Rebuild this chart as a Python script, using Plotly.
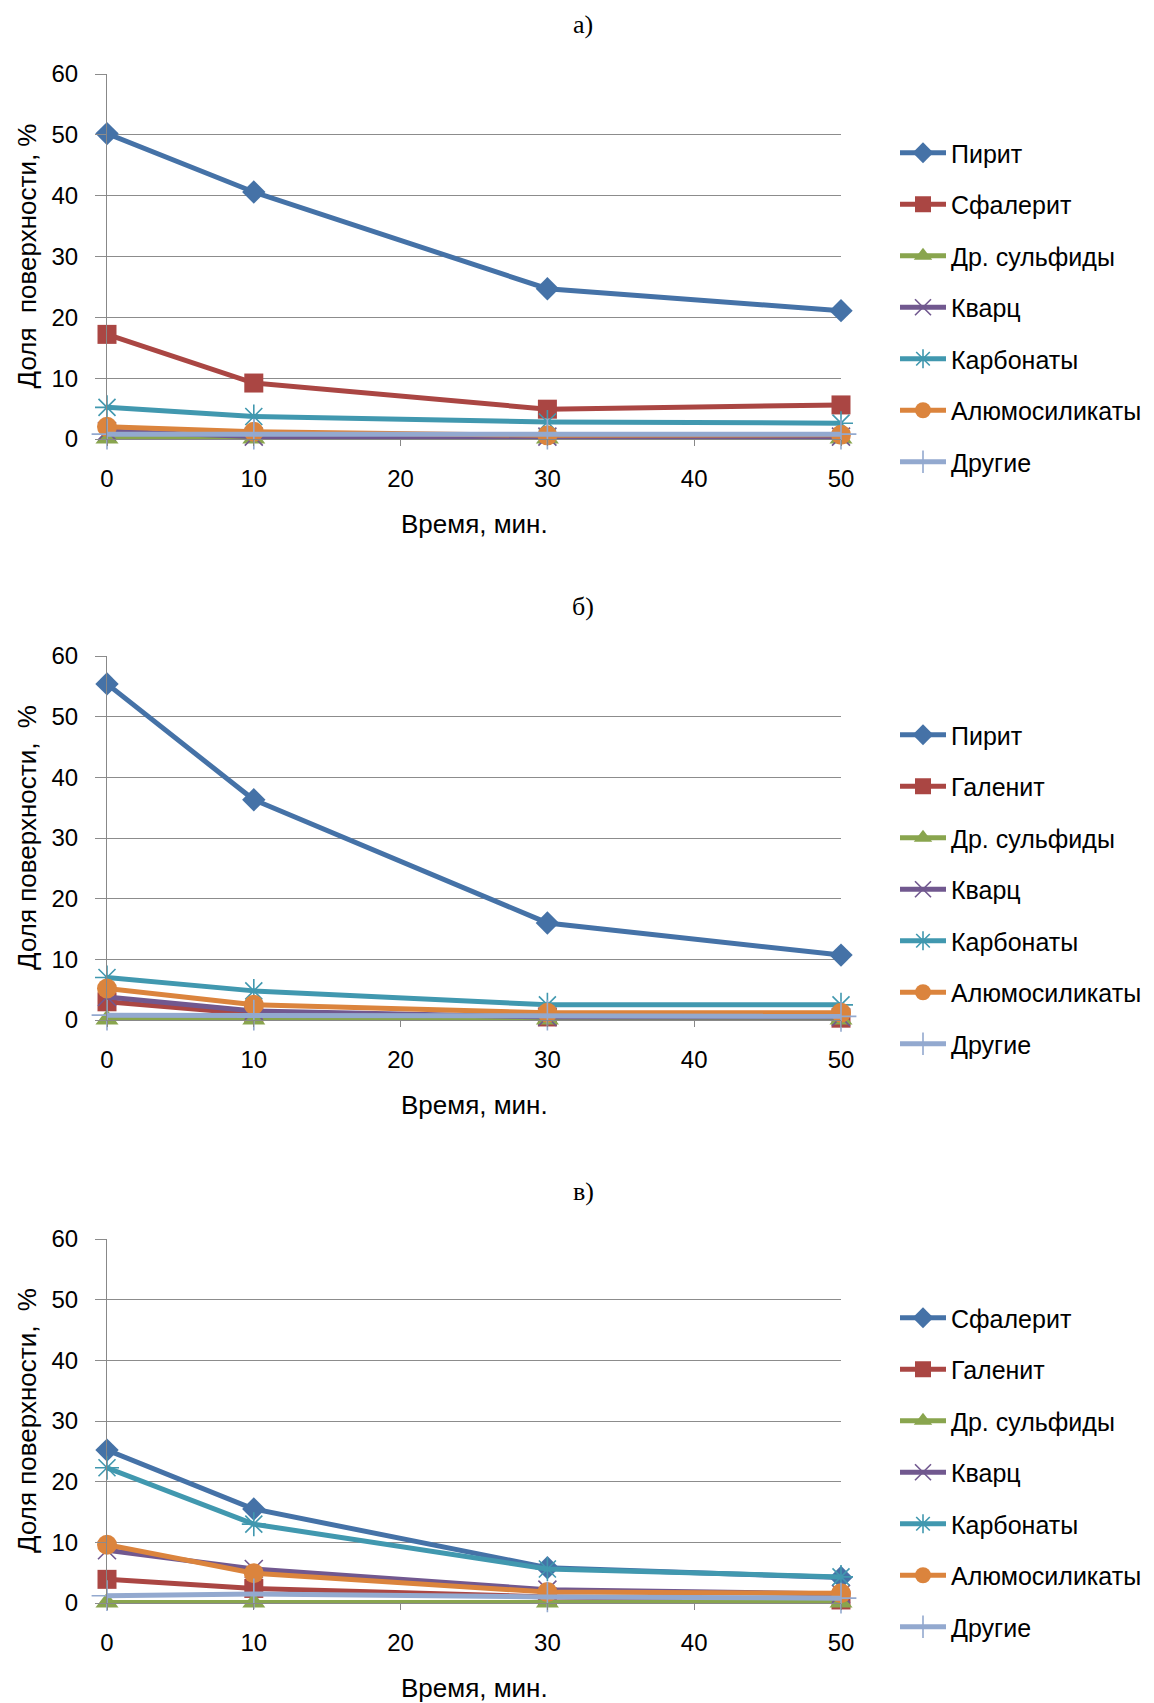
import plotly.graph_objects as go

# ---------------- data ----------------
time_min = [0, 10, 30, 50]
x_ticks = [0, 10, 20, 30, 40, 50]
y_ticks = [0, 10, 20, 30, 40, 50, 60]

panel_titles = ["а)", "б)", "в)"]
y_titles = ["Доля\u00a0\u00a0поверхности,\u00a0%",
            "Доля поверхности,\u00a0\u00a0%",
            "Доля поверхности,\u00a0\u00a0%"]
x_title = "Время, мин."

names_a = ["Пирит", "Сфалерит", "Др. сульфиды", "Кварц", "Карбонаты", "Алюмосиликаты", "Другие"]
names_b = ["Пирит", "Галенит", "Др. сульфиды", "Кварц", "Карбонаты", "Алюмосиликаты", "Другие"]
names_c = ["Сфалерит", "Галенит", "Др. сульфиды", "Кварц", "Карбонаты", "Алюмосиликаты", "Другие"]

# panel а)
a_s1 = [50.2, 40.6, 24.7, 21.1]
a_s2 = [17.2, 9.2, 4.9, 5.6]
a_s3 = [0.1, 0.1, 0.1, 0.1]
a_s4 = [1.3, 0.4, 0.4, 0.4]
a_s5 = [5.2, 3.7, 2.8, 2.6]
a_s6 = [2.0, 1.2, 0.6, 0.7]
a_s7 = [0.8, 0.8, 0.8, 0.8]

# panel б)
b_s1 = [55.4, 36.3, 16.0, 10.7]
b_s2 = [3.0, 1.0, 0.5, 0.3]
b_s3 = [0.1, 0.1, 0.1, 0.1]
b_s4 = [3.8, 1.5, 0.5, 0.5]
b_s5 = [7.0, 4.8, 2.5, 2.5]
b_s6 = [5.2, 2.5, 1.2, 1.2]
b_s7 = [0.8, 0.8, 0.8, 0.6]

# panel в)
c_s1 = [25.2, 15.5, 5.8, 4.2]
c_s2 = [3.9, 2.4, 1.0, 0.5]
c_s3 = [0.1, 0.1, 0.1, 0.1]
c_s4 = [8.7, 5.6, 2.2, 1.5]
c_s5 = [22.3, 13.0, 5.6, 4.3]
c_s6 = [9.6, 4.9, 1.8, 1.6]
c_s7 = [1.2, 1.5, 1.0, 0.8]

# ---------------- styling ----------------
OFF = 8  # default page body margin of the html page
W, H = 1154 - OFF, 1703 - OFF
colors = ["#4572A7", "#AA4643", "#89A54E", "#71588F", "#4198AF", "#DB843D", "#93A9CF"]
symbols = ["diamond", "square", "triangle-up", "x-thin-open", "asterisk-open", "circle", "cross-thin-open"]
msizes = [18, 19, 20, 18, 20, 20, 22]
FONT = "Liberation Sans Narrow, Arial Narrow, Liberation Sans, Arial, sans-serif"
SERIF = "Liberation Serif, Times New Roman, serif"
FS = 24
FS_LEG = 25
FS_TITLE = 26

# plot areas in page pixels
x_left, x_right = 107, 841
panels_px = [(74, 439), (656, 1020), (1239, 1603)]
title_y_px = [24, 606, 1191]
legend_first_px = [152, 734, 1317]

panels = [
    (names_a, [a_s1, a_s2, a_s3, a_s4, a_s5, a_s6, a_s7]),
    (names_b, [b_s1, b_s2, b_s3, b_s4, b_s5, b_s6, b_s7]),
    (names_c, [c_s1, c_s2, c_s3, c_s4, c_s5, c_s6, c_s7]),
]


def px_x(v):
    return (v - OFF) / W


def px_y(v):
    return 1 - (v - OFF) / H


fig = go.Figure()
annotations = []
layout = {}

for p, (names, series) in enumerate(panels):
    k = "" if p == 0 else str(p + 1)
    leg = "legend" + k
    for i, (nm, vals) in enumerate(zip(names, series)):
        open_sym = symbols[i].endswith("-open")
        fig.add_trace(go.Scatter(
            x=time_min, y=vals, name=nm, mode="lines+markers",
            xaxis="x" + k, yaxis="y" + k, legend=leg,
            legendgroup=f"p{p}_{i}",
            cliponaxis=False,
            line=dict(color=colors[i], width=5),
            marker=dict(symbol=symbols[i], size=msizes[i], color=colors[i],
                        line=dict(color=colors[i], width=1.6 if open_sym else 0)),
        ))
    top, bot = panels_px[p]
    layout["xaxis" + k] = dict(
        domain=[px_x(x_left), px_x(x_right)], anchor="y" + k, range=[0, 50], tickvals=x_ticks,
        showgrid=False, zeroline=False, showline=True, linecolor="#888888", linewidth=1,
        ticks="outside", ticklen=6, tickcolor="#888888",
        tickfont=dict(family=FONT, size=FS, color="#000000"),
        ticklabelstandoff=12, automargin=False,
    )
    layout["yaxis" + k] = dict(
        domain=[px_y(bot), px_y(top)], anchor="x" + k, range=[0, 60], tickvals=y_ticks,
        showgrid=True, gridcolor="#8c8c8c", gridwidth=1, zeroline=False,
        showline=True, linecolor="#888888", linewidth=1,
        ticks="outside", ticklen=11, tickcolor="#8c8c8c",
        tickfont=dict(family=FONT, size=FS, color="#000000"),
        ticklabelstandoff=12, automargin=False,
    )
    layout[leg] = dict(
        x=px_x(895), y=px_y(legend_first_px[p] - 22), xanchor="left", yanchor="top",
        font=dict(family=FONT, size=FS_LEG, color="#000000"),
        bgcolor="rgba(0,0,0,0)", tracegroupgap=16, itemwidth=46,
        traceorder="grouped",
    )
    annotations.append(dict(text=panel_titles[p], x=px_x(583), y=px_y(title_y_px[p]),
                            xref="paper", yref="paper", showarrow=False,
                            xanchor="center", yanchor="middle",
                            font=dict(family=SERIF, size=26, color="#000000")))
    annotations.append(dict(text=x_title, x=px_x((x_left + x_right) / 2),
                            y=px_y(bot + 85), xref="paper", yref="paper",
                            showarrow=False, xanchor="center", yanchor="middle",
                            font=dict(family=FONT, size=FS_TITLE, color="#000000")))
    annotations.append(dict(text=y_titles[p], x=px_x(27),
                            y=px_y((top + bot) / 2), xref="paper", yref="paper",
                            showarrow=False, xanchor="center", yanchor="middle", textangle=-90,
                            font=dict(family=FONT, size=FS_TITLE, color="#000000")))

fig.update_layout(
    width=W, height=H, margin=dict(l=0, r=0, t=0, b=0),
    paper_bgcolor="#ffffff", plot_bgcolor="#ffffff",
    annotations=annotations, showlegend=True, **layout,
)

fig.write_html("out.html")
